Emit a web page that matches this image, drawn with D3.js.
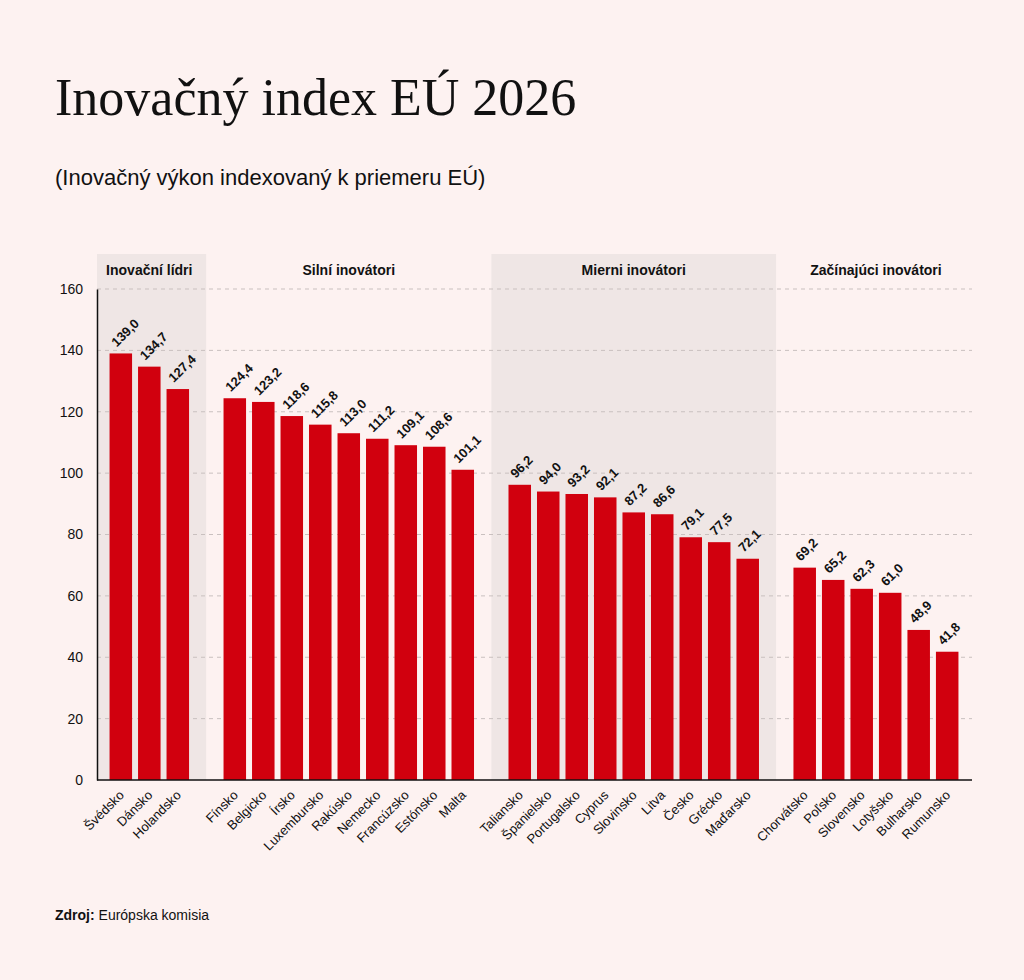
<!DOCTYPE html>
<html><head><meta charset="utf-8">
<script src="https://cdn.jsdelivr.net/npm/d3@7"></script>
<style>body{margin:0;background:#fdf2f1}</style>
</head><body>
<script>
const groups = ['Inovační lídri', 'Silní inovátori', 'Mierni inovátori', 'Začínajúci inovátori'];
const countries = [
  ['Švédsko', 'Dánsko', 'Holandsko'],
  ['Fínsko', 'Belgicko', 'Írsko', 'Luxembursko', 'Rakúsko', 'Nemecko', 'Francúzsko', 'Estónsko', 'Malta'],
  ['Taliansko', 'Španielsko', 'Portugalsko', 'Cyprus', 'Slovinsko', 'Litva', 'Česko', 'Grécko', 'Maďarsko'],
  ['Chorvátsko', 'Poľsko', 'Slovensko', 'Lotyšsko', 'Bulharsko', 'Rumunsko']
];
const values = [
  [139.0, 134.7, 127.4],
  [124.4, 123.2, 118.6, 115.8, 113.0, 111.2, 109.1, 108.6, 101.1],
  [96.2, 94.0, 93.2, 92.1, 87.2, 86.6, 79.1, 77.5, 72.1],
  [69.2, 65.2, 62.3, 61.0, 48.9, 41.8]
];
const yTicks = [0, 20, 40, 60, 80, 100, 120, 140, 160];

const W = 1024, H = 980;
const svg = d3.select('body').append('svg').attr('width', W).attr('height', H);
const fmt = v => v.toFixed(1).replace('.', ',');

// slots with spacer between groups
const slots = [];
countries.forEach((cs, g) => {
  if (g > 0) slots.push('gap' + g);
  cs.forEach(c => slots.push(c));
});
const x = d3.scaleBand().domain(slots).range([101, 967]).paddingInner(0.21).paddingOuter(0.3);
const y = d3.scaleLinear().domain([0, 160]).range([780, 289]);
const step = x.step();

svg.append('text').attr('x', 55).attr('y', 115).attr('font-family', 'Liberation Serif, serif')
  .attr('font-size', 52).attr('fill', '#111').text('Inovačný index EÚ 2026');
svg.append('text').attr('x', 55).attr('y', 185).attr('font-family', 'Liberation Sans, Arial, sans-serif')
  .attr('font-size', 22).attr('fill', '#111').text('(Inovačný výkon indexovaný k priemeru EÚ)');

// shaded bands and group labels
countries.forEach((cs, g) => {
  const x0 = x(cs[0]) - step * 0.6, x1 = x(cs[cs.length - 1]) + x.bandwidth() + step * 0.6;
  if (g % 2 === 0) {
    svg.append('rect').attr('x', g === 0 ? 97 : x0).attr('y', 254)
      .attr('width', x1 - (g === 0 ? 97 : x0)).attr('height', 526).attr('fill', '#efe6e5');
  }
  svg.append('text').attr('x', (x0 + x1) / 2).attr('y', 275).attr('text-anchor', 'middle')
    .attr('font-family', 'Liberation Sans, Arial, sans-serif').attr('font-weight', 'bold')
    .attr('font-size', 14).attr('fill', '#111').text(groups[g]);
});

// grid
svg.append('g').selectAll('line').data(yTicks.slice(1)).join('line')
  .attr('x1', 97).attr('x2', 972).attr('y1', d => y(d)).attr('y2', d => y(d))
  .attr('stroke', '#c9c0bf').attr('stroke-dasharray', '4,4');

const yAxis = svg.append('g').attr('transform', 'translate(97,0)')
  .call(d3.axisLeft(y).tickValues(yTicks).tickSize(0).tickPadding(14));
yAxis.select('.domain').attr('stroke', '#111').attr('stroke-width', 1.5);
yAxis.selectAll('text').attr('font-family', 'Liberation Sans, Arial, sans-serif').attr('font-size', 14).attr('fill', '#111');

const data = [];
countries.forEach((cs, g) => cs.forEach((c, i) => data.push({c, v: values[g][i]})));

svg.append('g').selectAll('rect').data(data).join('rect')
  .attr('x', d => x(d.c)).attr('width', x.bandwidth())
  .attr('y', d => y(d.v)).attr('height', d => y(0) - y(d.v)).attr('fill', '#d1000e');

svg.append('g').selectAll('text').data(data).join('text')
  .attr('transform', d => `translate(${x(d.c) + x.bandwidth() / 2 - 4},${y(d.v) - 6}) rotate(-45)`)
  .attr('font-family', 'Liberation Sans, Arial, sans-serif').attr('font-size', 13).attr('font-weight', 'bold')
  .attr('fill', '#111').text(d => fmt(d.v));

svg.append('line').attr('x1', 97).attr('x2', 972).attr('y1', 780).attr('y2', 780)
  .attr('stroke', '#111').attr('stroke-width', 1.5);

svg.append('g').selectAll('text').data(data).join('text')
  .attr('transform', d => `translate(${x(d.c) + x.bandwidth() / 2 + 4},${796}) rotate(-45)`)
  .attr('text-anchor', 'end').attr('font-family', 'Liberation Sans, Arial, sans-serif')
  .attr('font-size', 13).attr('fill', '#111').text(d => d.c);

const src = svg.append('text').attr('x', 55).attr('y', 920)
  .attr('font-family', 'Liberation Sans, Arial, sans-serif').attr('font-size', 14).attr('fill', '#111');
src.append('tspan').attr('font-weight', 'bold').text('Zdroj:');
src.append('tspan').text(' Európska komisia');
</script>
</body></html>
